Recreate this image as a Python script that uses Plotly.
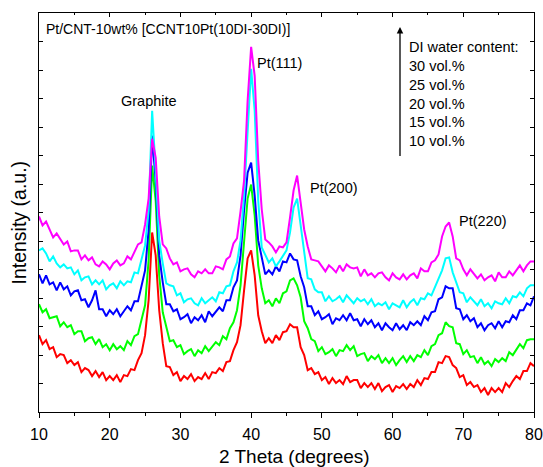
import numpy as np
import plotly.graph_objects as go

# 2-theta sampling grid (degrees), 0.5 deg steps from 10 to 80
two_theta = np.arange(10.0, 80.01, 0.5)

# Intensities (a.u., stacked as in the figure)
i_10vol = [77,68,72,63,65,55,58,57,49,52,
           47,50,40,44,42,36,41,35,40,32,
           36,32,37,30,37,36,43,42,52,59,
           77,112,180,157,102,69,46,45,37,40,
           31,36,33,38,31,35,33,39,33,40,
           39,44,41,50,51,62,70,87,122,154,
           162,137,97,81,69,74,69,77,72,80,
           81,88,85,85,65,57,42,44,38,40,
           32,35,28,34,29,32,28,36,30,32,
           32,24,29,25,29,23,29,21,25,27,
           20,26,24,28,23,28,25,32,27,34,
           33,40,40,50,49,56,55,47,44,35,
           37,27,30,25,27,20,24,17,24,20,
           24,20,29,25,31,36,33,41,41,49,
           46]

i_15vol = [108,100,103,94,95,96,86,90,85,87,
           78,81,81,71,74,75,68,73,65,68,
           62,68,63,66,62,71,67,76,78,92,
           107,152,247,212,137,100,85,71,72,65,
           67,58,61,63,56,62,59,66,61,66,
           70,67,76,73,84,90,102,127,172,214,
           228,197,147,124,109,112,106,114,109,119,
           121,132,134,127,115,91,84,73,71,61,
           65,58,60,63,56,62,61,67,62,66,
           56,58,59,51,56,53,57,49,54,49,
           54,47,52,56,50,56,51,57,55,62,
           57,66,68,77,79,90,86,85,69,68,
           58,62,55,56,49,55,48,51,46,53,
           50,54,51,60,57,63,68,64,72,73,
           73]

i_20vol = [138,129,137,128,130,122,130,123,126,117,
           121,122,112,113,105,112,122,103,103,96,
           102,98,103,96,101,106,102,111,111,127,
           142,182,277,232,157,130,108,108,101,103,
           93,95,98,89,95,92,97,90,101,96,
           101,105,101,112,112,125,132,157,202,240,
           250,217,172,153,138,142,138,146,141,151,
           150,159,153,152,136,125,106,106,97,101,
           93,95,98,88,94,92,97,92,99,92,
           93,86,93,88,92,85,89,82,89,85,
           82,89,83,87,82,90,87,91,87,96,
           92,100,101,113,115,126,124,124,104,103,
           93,97,91,94,85,89,82,87,89,84,
           91,85,91,90,97,93,102,102,109,107,
           116]

i_25vol = [162,164,159,151,156,149,145,148,144,145,
           138,142,132,135,136,128,132,128,132,123,
           127,129,124,131,127,131,130,140,139,154,
           167,202,302,242,172,149,129,127,126,117,
           119,110,113,114,109,107,114,109,112,115,
           111,120,119,126,127,141,150,172,217,287,
           344,302,212,165,157,150,154,146,151,156,
           162,180,205,214,187,159,134,133,123,120,
           120,111,116,111,113,116,110,117,113,109,
           114,111,113,108,113,106,109,107,110,103,
           109,107,105,112,105,110,113,107,114,113,
           119,117,125,134,142,154,155,140,130,120,
           119,110,115,111,107,113,106,109,104,111,
           109,108,114,109,116,115,120,116,124,127,
           127]

i_30vol = [196,187,191,182,175,179,174,168,171,161,
           162,162,153,157,152,155,148,146,151,148,
           143,149,152,147,149,156,153,160,168,170,
           188,214,274,255,196,168,164,154,148,150,
           141,143,144,138,135,141,139,143,139,139,
           146,145,143,153,156,169,174,201,232,312,
           366,337,252,203,173,170,166,160,166,165,
           170,195,222,237,212,183,166,153,152,151,
           146,141,147,144,140,147,141,148,145,144,
           145,136,143,137,139,135,139,140,135,132,
           139,135,133,138,133,137,139,134,144,141,
           141,150,152,158,176,186,190,176,154,152,
           143,137,143,138,134,138,132,135,137,131,
           140,135,135,141,137,142,147,141,147,151,
           151]

series_names = ["10 vol.%", "15 vol.%", "20 vol.%", "25 vol.%", "30 vol.%"]
series_values = [i_10vol, i_15vol, i_20vol, i_25vol, i_30vol]
series_colors = ["#FF0000", "#00FF00", "#0000FF", "#00FFFF", "#FF00FF"]

for v in series_values:
    assert len(v) == len(two_theta), len(v)

legend_title = "DI water content:"
legend_lines = ["30 vol.%", "25 vol.%", "20 vol.%", "15 vol.%", "10 vol.%"]

FONT = "Liberation Sans, Arial, sans-serif"

fig = go.Figure()
for name, vals, col in zip(series_names, series_values, series_colors):
    fig.add_trace(go.Scatter(x=two_theta, y=vals, mode="lines", name=name,
                             line=dict(color=col, width=2.0), showlegend=False))

L, R, T, B = 39, 9, 13, 55
W, H = 543, 467
pw = W - L - R
ph = H - T - B

def xp(px):
    return (px - L) / pw

def yp(py):
    return (H - B - py) / ph

annotations = []
def add_text(text, px, py, size=14, xanchor="left"):
    annotations.append(dict(text=text, x=xp(px), y=yp(py), xref="paper", yref="paper",
                            xanchor=xanchor, yanchor="middle", showarrow=False,
                            font=dict(family=FONT, size=size, color="black")))

add_text("Pt/CNT-10wt% [CCNT10Pt(10DI-30DI)]", 44, 29.5, 14)
add_text("Graphite", 148.5, 101, 14.5, "center")
add_text("Pt(111)", 255, 62.5, 14.5)
add_text("Pt(200)", 308, 188, 14.5)
add_text("Pt(220)", 457, 221, 14.5)
add_text(legend_title, 407, 47.5, 14.5)
for k, t in enumerate(legend_lines):
    add_text(t, 407, 66 + k * 18.8, 14.5)

# axis titles
annotations.append(dict(text="2 Theta (degrees)", x=xp(294.5), y=yp(456), xref="paper", yref="paper",
                        xanchor="center", yanchor="middle", showarrow=False,
                        font=dict(family=FONT, size=19, color="black")))
annotations.append(dict(text="Intensity (a.u.)", x=xp(18.5), y=yp(223), xref="paper", yref="paper",
                        xanchor="center", yanchor="middle", showarrow=False, textangle=-90,
                        font=dict(family=FONT, size=19.5, color="black")))

# arrow (tail 130 px below the head)
annotations.append(dict(text="", x=xp(400), y=yp(27), ax=0, ay=130.5,
                        xref="paper", yref="paper", axref="pixel", ayref="pixel",
                        showarrow=True, arrowhead=2, arrowsize=1, arrowwidth=1.3,
                        arrowcolor="black"))

fig.update_layout(
    template="none",
    width=W, height=H, autosize=False,
    margin=dict(l=L, r=R, t=T, b=B, autoexpand=False),
    plot_bgcolor="white", paper_bgcolor="white",
    font=dict(family=FONT, size=16, color="black"),
    annotations=annotations,
    xaxis=dict(range=[10, 80], dtick=10, tick0=10, showline=True, linecolor="black",
               linewidth=1.3, mirror=True, ticks="outside", ticklen=5, tickwidth=1.3,
               tickcolor="black", showgrid=False, zeroline=False, automargin=False,
               ticklabelstandoff=3,
               tickfont=dict(family=FONT, size=16, color="black"),
               minor=dict(ticks="outside", dtick=5, ticklen=3, tickwidth=1.3,
                          tickcolor="black", showgrid=False)),
    xaxis2=dict(range=[10, 80], overlaying="x", side="top", dtick=10, tick0=10,
                ticks="inside", ticklen=4, tickwidth=1.3, tickcolor="black",
                showticklabels=False, showgrid=False, zeroline=False, showline=False,
                automargin=False,
                minor=dict(ticks="inside", dtick=5, ticklen=2, tickwidth=1.3,
                           tickcolor="black")),
    yaxis=dict(range=[0, 400], tick0=0, dtick=400 / 14, showticklabels=False,
               showline=True, linecolor="black", linewidth=1.3, mirror="ticks",
               ticks="inside", ticklen=4, tickwidth=1.3, tickcolor="black",
               showgrid=False, zeroline=False, automargin=False),
)
# invisible trace to activate the top axis
fig.add_trace(go.Scatter(x=[10, 80], y=[0, 0], xaxis="x2", mode="markers",
                         marker=dict(opacity=0), showlegend=False, hoverinfo="skip"))

fig.write_html("out.html", config={"displayModeBar": False},
               post_script="document.body.style.margin='0';document.body.style.overflow='hidden';")
